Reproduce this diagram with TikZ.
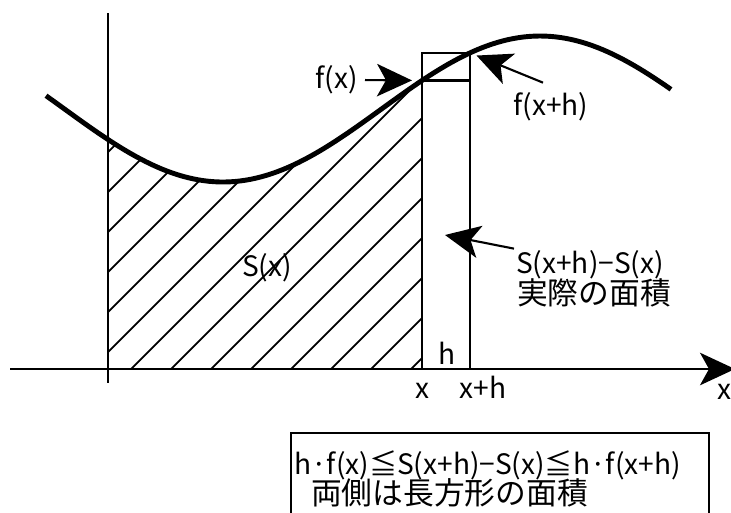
\documentclass[tikz,border=0pt]{standalone}
\usepackage{fontspec}
\setmainfont{Noto Sans CJK JP}
\usetikzlibrary{arrows.meta}

\begin{document}
\begin{tikzpicture}[x=0.02cm, y=-0.02cm, font=\fontsize{16}{19}\selectfont]
  \tikzset{axis/.style={line width=1.2pt}, curve/.style={line width=2.8pt}, hatch/.style={line width=1pt}, lbl/.style={inner sep=1pt}, jlbl/.style={inner sep=1pt, font=\fontsize{17.5}{20}\selectfont}, pointer/.style={-{Stealth[length=7mm,width=6.5mm,inset=1.8mm]}, line width=1.2pt}}
  \useasboundingbox (0,0) rectangle (731,512);
  \coordinate (xl) at (10,369);
  \coordinate (xr) at (735,369);
  \coordinate (yt) at (108,13);
  \coordinate (yb) at (108,383);
  \coordinate (x0) at (422,369);
  \coordinate (xh) at (470,369);
  \coordinate (fx) at (422,{109+73*cos(0.5678*(422-223))});
  \coordinate (fxh) at (470,{109+73*cos(0.5678*(470-223))});
  \coordinate (mid) at (445,235);
  \begin{scope}
    \clip (108,369) -- plot[domain=108:422, samples=60] (\x,{109+73*cos(0.5678*(\x-223))}) -- (x0) -- cycle;
    \foreach \c in {260,300,...,780} \draw[hatch] (\c-369,369) -- (\c,0);
  \end{scope}
  \draw[curve] plot[domain=46:671, samples=120] (\x,{109+73*cos(0.5678*(\x-223))});
  \draw[axis] (yt) -- (yb);
  \draw[pointer] (xl) -- (xr);
  \draw[axis] (x0) |- (fxh) -- (xh);
  \draw[axis] (fx) -- (fx -| xh);
  \node[lbl, anchor=east] (lfx) at (360,80) {f(x)};
  \node[lbl] (lfxh) at (551,107) {f(x+h)};
  \node[lbl] (lsx) at (267,268) {S(x)};
  \node[lbl, anchor=west] (ldiff) at (514,265) {S(x+h)−S(x)};
  \node[jlbl, anchor=west] (lreal) at (515,293) {実際の面積};
  \node[lbl] (lh) at (447,353) {h};
  \node[lbl, anchor=base] (lx) at (422,398) {x};
  \node[lbl, anchor=base] (lxh) at (483,398) {x+h};
  \node[lbl, anchor=base] (laxis) at (724,399) {x};
  \node[draw, line width=1.2pt, anchor=north west, minimum width=8.36cm, minimum height=2cm] (box) at (290,432) {};
  \node[lbl, anchor=west] (lineq) at (292,465) {h·f(x)≦S(x+h)−S(x)≦h·f(x+h)};
  \node[jlbl, anchor=west] (lnote) at (309,493) {両側は長方形の面積};
  \draw[pointer, shorten <=1mm, shorten >=2mm] (lfx.east) -- (fx);
  \draw[pointer, shorten >=1.4mm] ([shift={(-8,-8)}]lfxh.north) -- (fxh);
  \draw[pointer] (ldiff.north west) -- (mid);
\end{tikzpicture}
\end{document}
